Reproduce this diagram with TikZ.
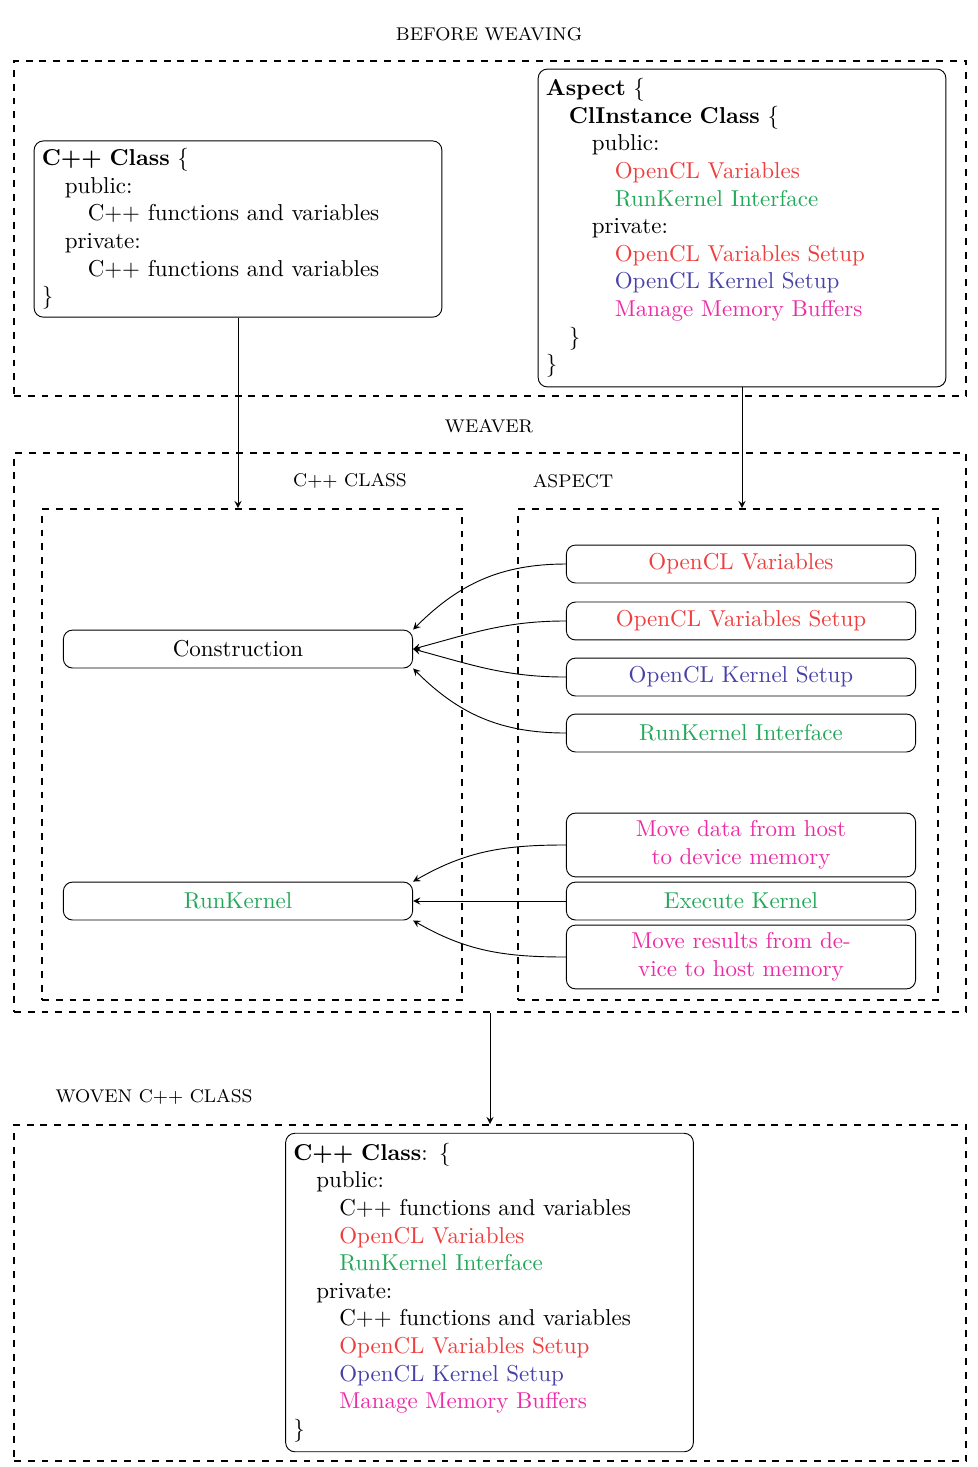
\documentclass[tikz,border=0pt]{standalone}
\usetikzlibrary{arrows}

\definecolor{clred}{RGB}{238,62,62}
\definecolor{clgreen}{RGB}{34,168,88}
\definecolor{clblue}{RGB}{72,66,168}
\definecolor{clpink}{RGB}{236,44,164}
\newcommand{\ind}{\hspace*{1em}}

\tikzset{
  group/.style={draw, dashed, thick, inner sep=0pt},
  grouplabel/.style={font=\footnotesize},
  codebox/.style={draw, rounded corners, align=left, text width=6cm},
  partbox/.style={draw, rounded corners, align=center,
    minimum width=5.34cm, minimum height=0.58cm},
  >=stealth
}

\begin{document}
\begin{tikzpicture}
  \useasboundingbox (0,0) rectangle (14.954,-22.431);
  % before weaving
  \node[grouplabel] (lbefore) at (7.477,-0.52) {BEFORE WEAVING};
  \node[group, minimum width=14.557cm, minimum height=5.122cm] (before) at (7.492,-3.494) {};
  \node[codebox] (cls) at (3.639,-3.502) {\textbf{C++ Class} \{\\
    \ind public:\\
    \ind\ind C++ functions and variables\\
    \ind private:\\
    \ind\ind C++ functions and variables\\
    \}};
  \node[codebox, minimum height=4.86cm] (asp) at (11.346,-3.486) {\textbf{Aspect} \{\\
    \ind\textbf{ClInstance Class} \{\\
    \ind\ind public:\\
    \ind\ind\ind\textcolor{clred}{OpenCL Variables}\\
    \ind\ind\ind\textcolor{clgreen}{RunKernel Interface}\\
    \ind\ind private:\\
    \ind\ind\ind\textcolor{clred}{OpenCL Variables Setup}\\
    \ind\ind\ind\textcolor{clblue}{OpenCL Kernel Setup}\\
    \ind\ind\ind\textcolor{clpink}{Manage Memory Buffers}\\
    \ind\}\\
    \}};

  % weaver
  \node[grouplabel] (lweaver) at (7.477,-6.514) {WEAVER};
  \node[group, minimum width=14.557cm, minimum height=8.547cm] (weaver) at (7.492,-11.2) {};
  \node[grouplabel] (lclsgroup) at (5.352,-7.355) {C++ CLASS};
  \node[grouplabel] (laspgroup) at (8.761,-7.355) {ASPECT};
  \node[group, minimum width=6.422cm, minimum height=7.508cm] (clsgroup) at (3.853,-11.537) {};
  \node[group, minimum width=6.422cm, minimum height=7.508cm] (aspgroup) at (11.132,-11.537) {};

  \node[partbox] (cons) at (3.639,-9.924) {Construction};
  \node[partbox, text=clgreen] (run) at (3.639,-13.777) {RunKernel};

  \node[partbox, text=clred] (vars) at (11.330,-8.624) {OpenCL Variables};
  \node[partbox, text=clred] (varsetup) at (11.330,-9.495) {OpenCL Variables Setup};
  \node[partbox, text=clblue] (kernsetup) at (11.330,-10.352) {OpenCL Kernel Setup};
  \node[partbox, text=clgreen] (runif) at (11.330,-11.208) {RunKernel Interface};
  \node[partbox, text=clpink] (movein) at (11.330,-12.920) {Move data from host\\to device memory};
  \node[partbox, text=clgreen] (exec) at (11.330,-13.777) {Execute Kernel};
  \node[partbox, text=clpink] (moveout) at (11.330,-14.633) {Move results from de-\\vice to host memory};

  % woven class
  \node[grouplabel] (lwoven) at (2.355,-16.774) {WOVEN C++ CLASS};
  \node[group, minimum width=14.557cm, minimum height=5.137cm] (woven) at (7.492,-19.771) {};
  \node[codebox, minimum height=4.87cm] (wcls) at (7.485,-19.763) {\textbf{C++ Class}: \{\\
    \ind public:\\
    \ind\ind C++ functions and variables\\
    \ind\ind\textcolor{clred}{OpenCL Variables}\\
    \ind\ind\textcolor{clgreen}{RunKernel Interface}\\
    \ind private:\\
    \ind\ind C++ functions and variables\\
    \ind\ind\textcolor{clred}{OpenCL Variables Setup}\\
    \ind\ind\textcolor{clblue}{OpenCL Kernel Setup}\\
    \ind\ind\textcolor{clpink}{Manage Memory Buffers}\\
    \}};

  \draw[->] (cls.south) -- (cls.south |- clsgroup.north);
  \draw[->] (asp.south) -- (asp.south |- aspgroup.north);
  \draw[->] (weaver.south) -- (woven.north);

  \draw[->] (vars.west) to[out=180,in=45] (cons.north east);
  \draw[->] (varsetup.west) to[out=180,in=15] (cons.east);
  \draw[->] (kernsetup.west) to[out=180,in=-15] (cons.east);
  \draw[->] (runif.west) to[out=180,in=-45] (cons.south east);
  \draw[->] (movein.west) to[out=180,in=30] (run.north east);
  \draw[->] (exec) -- (run);
  \draw[->] (moveout.west) to[out=180,in=-30] (run.south east);
\end{tikzpicture}
\end{document}
